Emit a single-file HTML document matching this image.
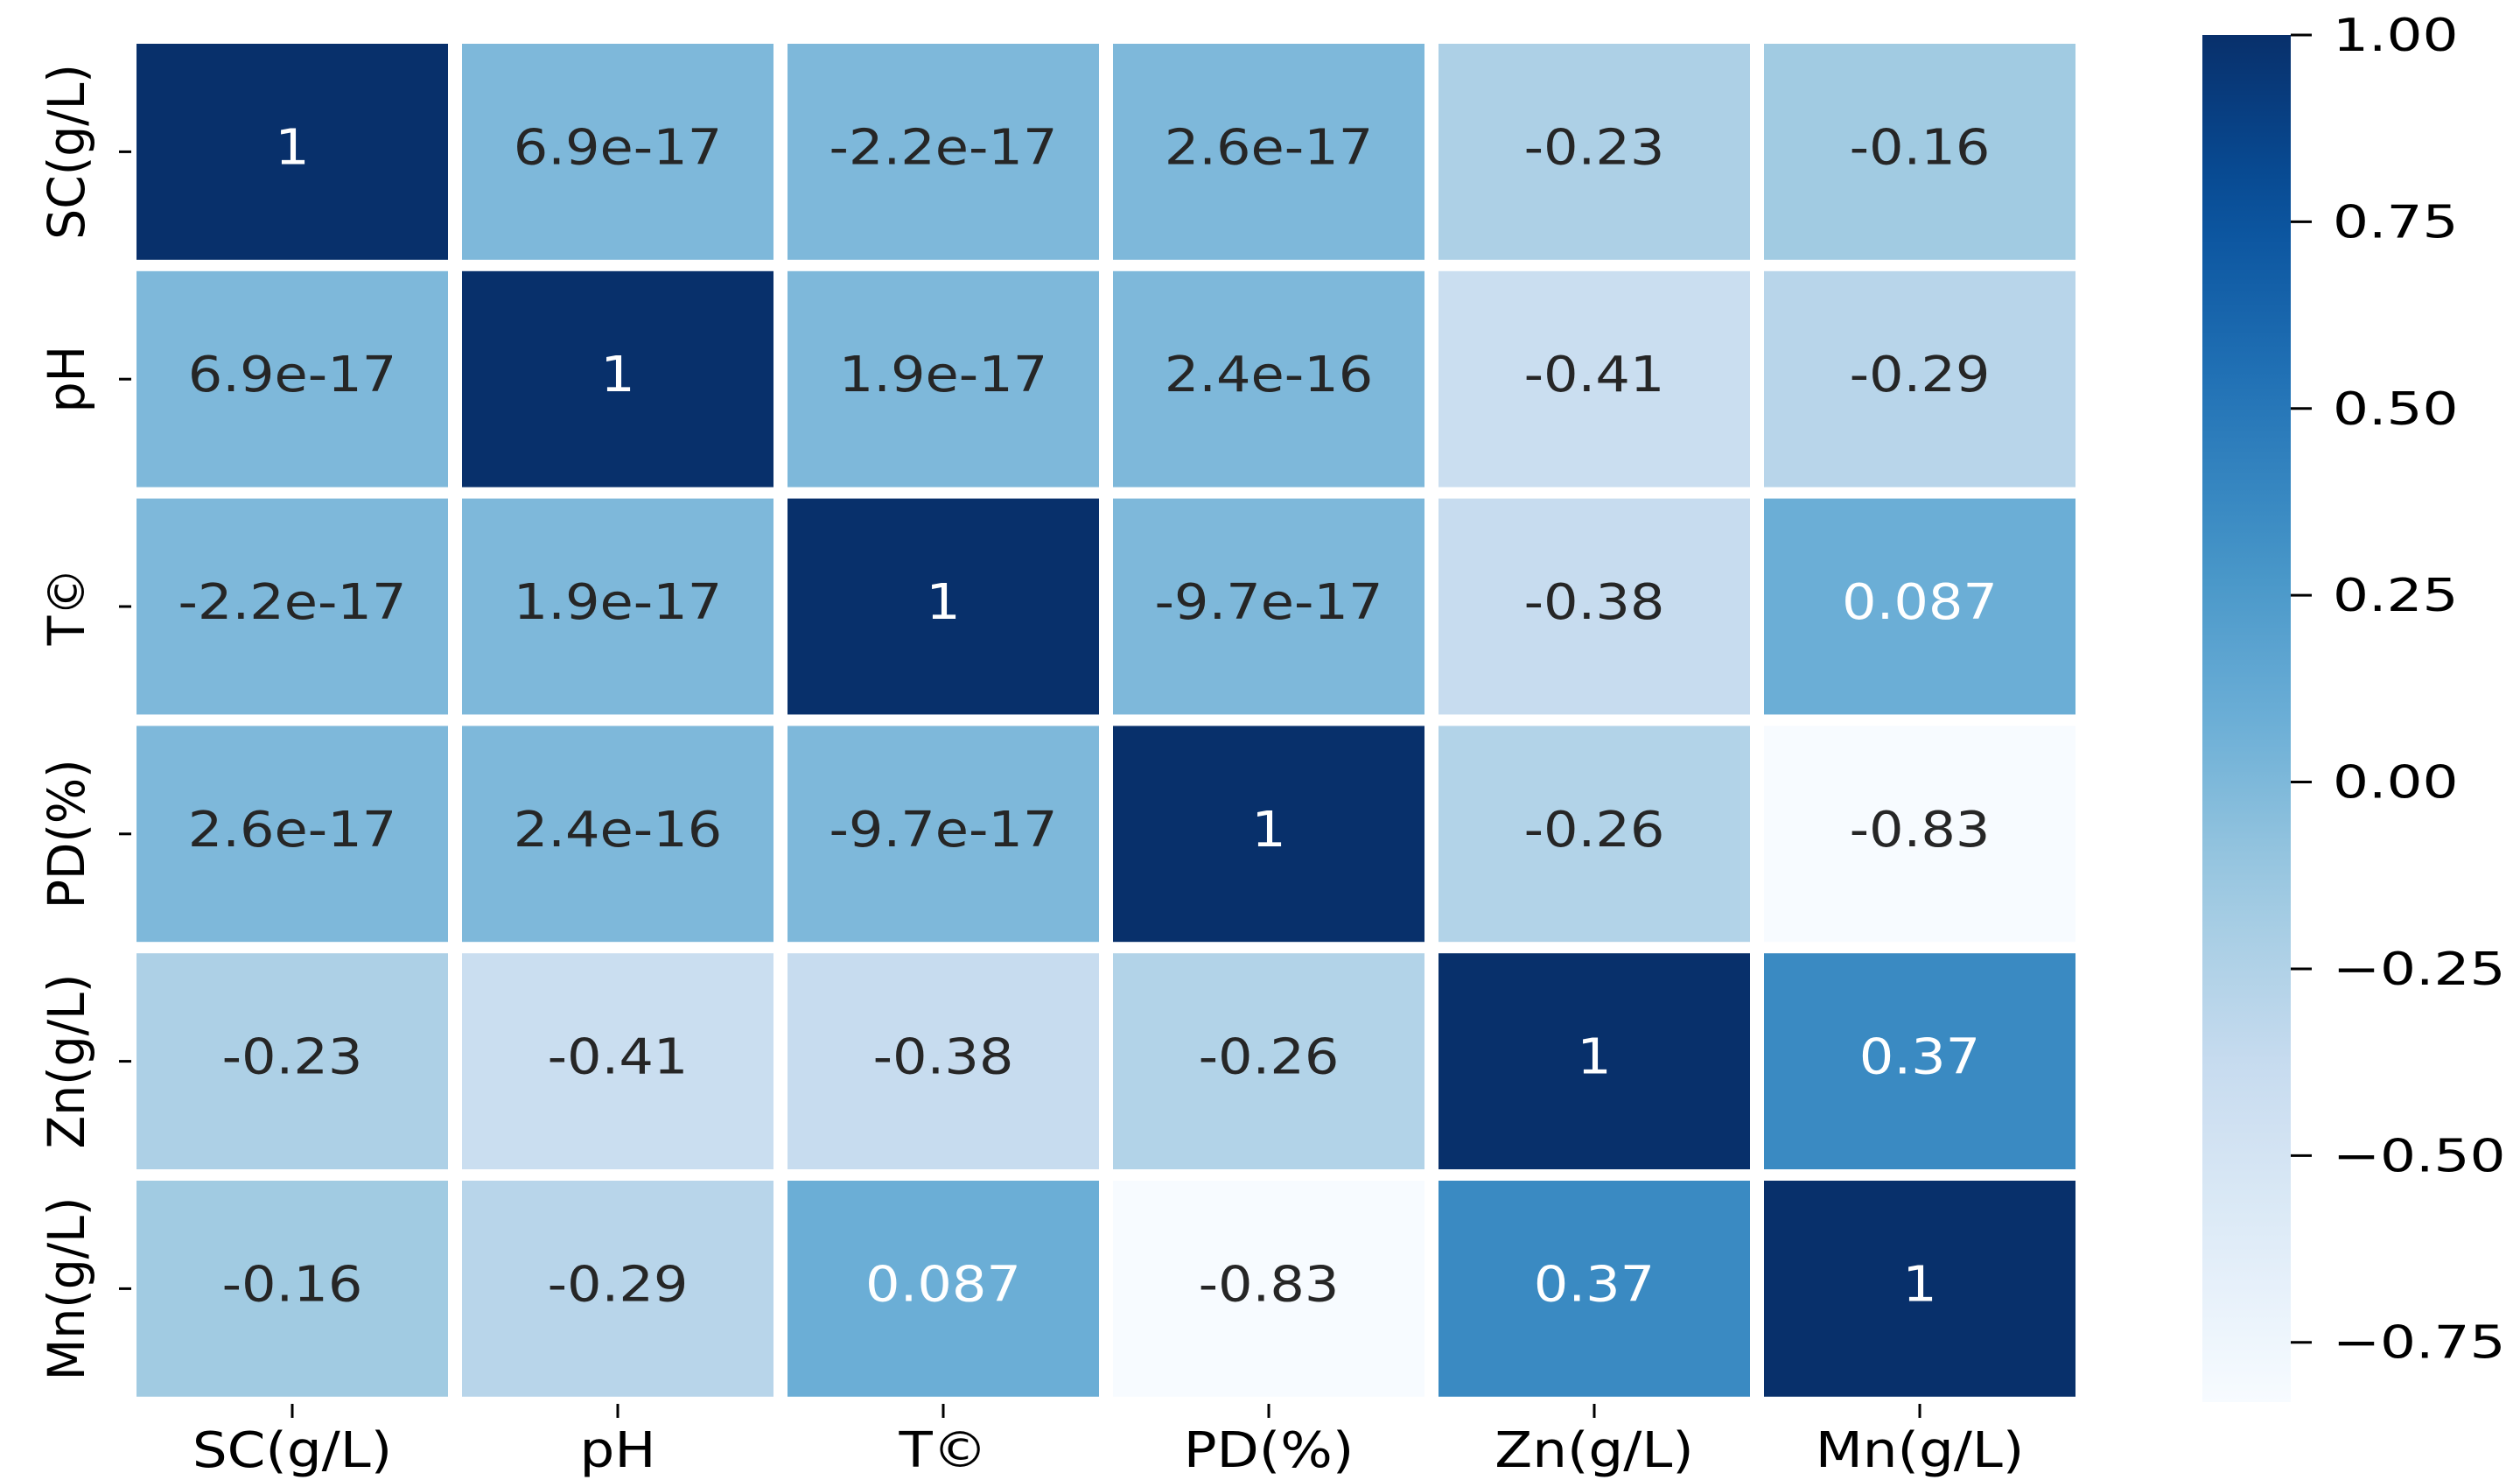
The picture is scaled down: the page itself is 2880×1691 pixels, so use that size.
<!DOCTYPE html>
<html><head><meta charset="utf-8"><style>
html,body{margin:0;padding:0;background:#fff;}
svg{display:block;}
text{font-family:"DejaVu Sans","Liberation Sans",sans-serif;}
</style></head><body>
<svg id="chart" width="2880" height="1691" viewBox="0 0 2880 1691" xmlns="http://www.w3.org/2000/svg">
<defs><linearGradient id="cbgrad" x1="0" y1="1" x2="0" y2="0"></linearGradient></defs>
<g id="cells"></g><g id="axes"></g><g id="cbar"></g>
</svg>
<script>
const labels = ["SC(g/L)","pH","T©","PD(%)","Zn(g/L)","Mn(g/L)"];
const values = [
 [1, 6.9e-17, -2.2e-17, 2.6e-17, -0.23, -0.16],
 [6.9e-17, 1, 1.9e-17, 2.4e-16, -0.41, -0.29],
 [-2.2e-17, 1.9e-17, 1, -9.7e-17, -0.38, 0.087],
 [2.6e-17, 2.4e-16, -9.7e-17, 1, -0.26, -0.83],
 [-0.23, -0.41, -0.38, -0.26, 1, 0.37],
 [-0.16, -0.29, 0.087, -0.83, 0.37, 1]
];
const printed = [
 ["1","6.9e-17","-2.2e-17","2.6e-17","-0.23","-0.16"],
 ["6.9e-17","1","1.9e-17","2.4e-16","-0.41","-0.29"],
 ["-2.2e-17","1.9e-17","1","-9.7e-17","-0.38","0.087"],
 ["2.6e-17","2.4e-16","-9.7e-17","1","-0.26","-0.83"],
 ["-0.23","-0.41","-0.38","-0.26","1","0.37"],
 ["-0.16","-0.29","0.087","-0.83","0.37","1"]
];
const cbTicks = [1.00,0.75,0.50,0.25,0.00,-0.25,-0.50,-0.75];
const cbTickLabels = ["1.00","0.75","0.50","0.25","0.00","\u22120.25","\u22120.50","\u22120.75"];
const vmin = -0.83, vmax = 1.0;

const NS="http://www.w3.org/2000/svg";
const blues=[[247,251,255],[222,235,247],[198,219,239],[158,202,225],[107,174,214],[66,146,198],[33,113,181],[8,81,156],[8,48,107]];
function cmap(v){let t=(v-vmin)/(vmax-vmin);t=Math.max(0,Math.min(1,t));const p=t*8;const i=Math.min(7,Math.floor(p));const f=p-i;
 return blues[i].map((c,k)=>Math.round(c+(blues[i+1][k]-c)*f));}
function lum(c){const l=c.map(x=>{x/=255;return x<=0.03928?x/12.92:Math.pow((x+0.055)/1.055,2.4);});return 0.2126*l[0]+0.7152*l[1]+0.0722*l[2];}
const X0=156, PX=372, Y0=50, PY=259.8, GX=16, GY=13;
const xPos=j=>X0+j*PX, yPos=i=>Y0+i*PY;
function mk(tag,attrs,parent){const e=document.createElementNS(NS,tag);for(const k in attrs)e.setAttribute(k,attrs[k]);parent.appendChild(e);return e;}
const cells=document.getElementById('cells'), axes=document.getElementById('axes'), cb=document.getElementById('cbar');
for(let i=0;i<values.length;i++)for(let j=0;j<values[i].length;j++){
 const c=cmap(values[i][j]);
 const r=mk('rect',{x:xPos(j),y:yPos(i),width:PX-GX,height:PY-GY,fill:`rgb(${c})`},cells);
 
 
 const cx=xPos(j)+(PX-GX)/2, cy=yPos(i)+(PY-GY)/2+14;
 const t=mk('text',{x:0,y:0,'text-anchor':'middle','font-size':56,fill:lum(c)<0.408?'#ffffff':'#262626',transform:`translate(${cx},${cy}) scale(1.11,1)`},cells);
 t.textContent=printed[i][j];
 
 
}
for(let k=0;k<labels.length;k++){
 const cx=xPos(k)+(PX-GX)/2, cy=yPos(k)+(PY-GY)/2;
 mk('line',{x1:cx,y1:1604,x2:cx,y2:1620,stroke:'#000','stroke-width':3},axes);
 const xl=mk('text',{x:0,y:0,'text-anchor':'middle','font-size':56,fill:'#000',transform:`translate(${cx},1676) scale(1.12,1)`},axes);
 xl.textContent=labels[k];
 
 
 mk('line',{x1:136,y1:cy,x2:150,y2:cy,stroke:'#000','stroke-width':3},axes);
 const yl=mk('text',{x:0,y:0,'text-anchor':'middle','font-size':58,fill:'#000',transform:`translate(96,${cy}) rotate(-90) scale(0.95,1)`},axes);
 yl.textContent=labels[k];
 
 
}
const CBX=2517, CBW=101, CBT=40, CBB=1602;
const vy=v=>CBT+(vmax-v)/(vmax-vmin)*(CBB-CBT);
const g=document.getElementById('cbgrad');
for(let s=0;s<=20;s++){const v=vmin+(vmax-vmin)*s/20;const c=cmap(v);mk('stop',{offset:(s/20),'stop-color':`rgb(${c})`},g);}
const bar=mk('rect',{x:CBX,y:CBT,width:CBW,height:CBB-CBT,fill:'url(#cbgrad)'},cb);


cbTicks.forEach((v,k)=>{
 const y=vy(v);
 mk('line',{x1:CBX+CBW,y1:y,x2:CBX+CBW+24,y2:y,stroke:'#000','stroke-width':3},cb);
 const t=mk('text',{x:0,y:0,'font-size':52,fill:'#000',transform:`translate(2666,${y+18}) scale(1.24,1)`},cb);
 t.textContent=cbTickLabels[k];
 
 
});
</script>
</body></html>
